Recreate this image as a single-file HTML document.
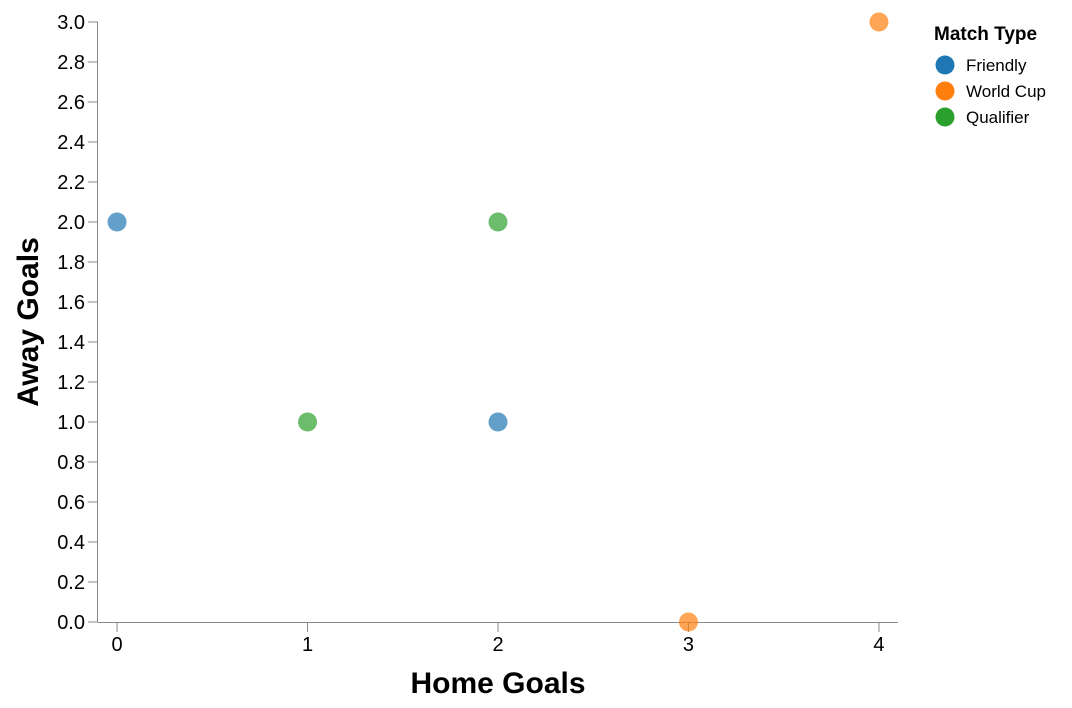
<!DOCTYPE html>
<html><head><meta charset="utf-8"><style>
body{margin:0;background:#fff;}
svg{display:block;font-family:"Liberation Sans",Arial,sans-serif;}
</style></head><body>
<svg id="chart" width="1072" height="708" viewBox="0 0 1072 708">
<g id="axes"></g><g id="marks"></g><g id="legend"></g>
</svg>
<script>
const homeGoals=[0,2,3,4,1,2];
const awayGoals=[2,1,0,3,1,2];
const matchTypes=["Friendly","Friendly","World Cup","World Cup","Qualifier","Qualifier"];
const legendTypes=["Friendly","World Cup","Qualifier"];
const legendColors=["#1f77b4","#ff7f0e","#2ca02c"];
const xTicks=[0,1,2,3,4];
const yTicks=[0,0.2,0.4,0.6,0.8,1.0,1.2,1.4,1.6,1.8,2.0,2.2,2.4,2.6,2.8,3.0];

const NS="http://www.w3.org/2000/svg";
const L=98,R=898,T=22,B=622;
const x=v=>L+(v+0.1)/4.2*(R-L);
const y=v=>B-v/3*(B-T);
function mk(tag,attrs,parent,text){const e=document.createElementNS(NS,tag);for(const k in attrs)e.setAttribute(k,attrs[k]);if(text!==undefined)e.textContent=text;parent.appendChild(e);return e;}
const axes=document.getElementById('axes'),marks=document.getElementById('marks'),legend=document.getElementById('legend');

let e=mk('line',{x1:L,y1:B+0.5,x2:R,y2:B+0.5,stroke:'#888','stroke-width':1},axes);


e=mk('line',{x1:L-0.5,y1:T,x2:L-0.5,y2:B,stroke:'#888','stroke-width':1},axes);


xTicks.forEach(t=>{
  mk('line',{x1:x(t),y1:B,x2:x(t),y2:B+10,stroke:'#888'},axes);
  e=mk('text',{x:x(t),y:B+29,'text-anchor':'middle','font-size':20,fill:'#000'},axes,String(t));
  
  
});
yTicks.forEach(t=>{
  mk('line',{x1:L-10,y1:y(t),x2:L,y2:y(t),stroke:'#888'},axes);
  e=mk('text',{x:L-13,y:y(t)+7,'text-anchor':'end','font-size':20,fill:'#000'},axes,t.toFixed(1));
  
  
});
e=mk('text',{x:(L+R)/2,y:693,'text-anchor':'middle','font-size':30,'font-weight':'bold'},axes,'Home Goals');


e=mk('text',{x:0,y:0,transform:'translate(38,'+((T+B)/2)+') rotate(-90)','text-anchor':'middle','font-size':30,'font-weight':'bold'},axes,'Away Goals');



homeGoals.forEach((h,i)=>{
  const c=legendColors[legendTypes.indexOf(matchTypes[i])];
  e=mk('circle',{cx:x(h),cy:y(awayGoals[i]),r:9.5,fill:c,'fill-opacity':0.7},marks);
  
  
});

e=mk('text',{x:934,y:40,'font-size':19,'font-weight':'bold'},legend,'Match Type');


legendTypes.forEach((t,i)=>{
  const g=mk('g',{},legend);
  
  
  mk('circle',{cx:945,cy:65+i*26,r:9.5,fill:legendColors[i]},g);
  mk('text',{x:966,y:71+i*26,'font-size':17},g,t);
});
</script>
</body></html>
